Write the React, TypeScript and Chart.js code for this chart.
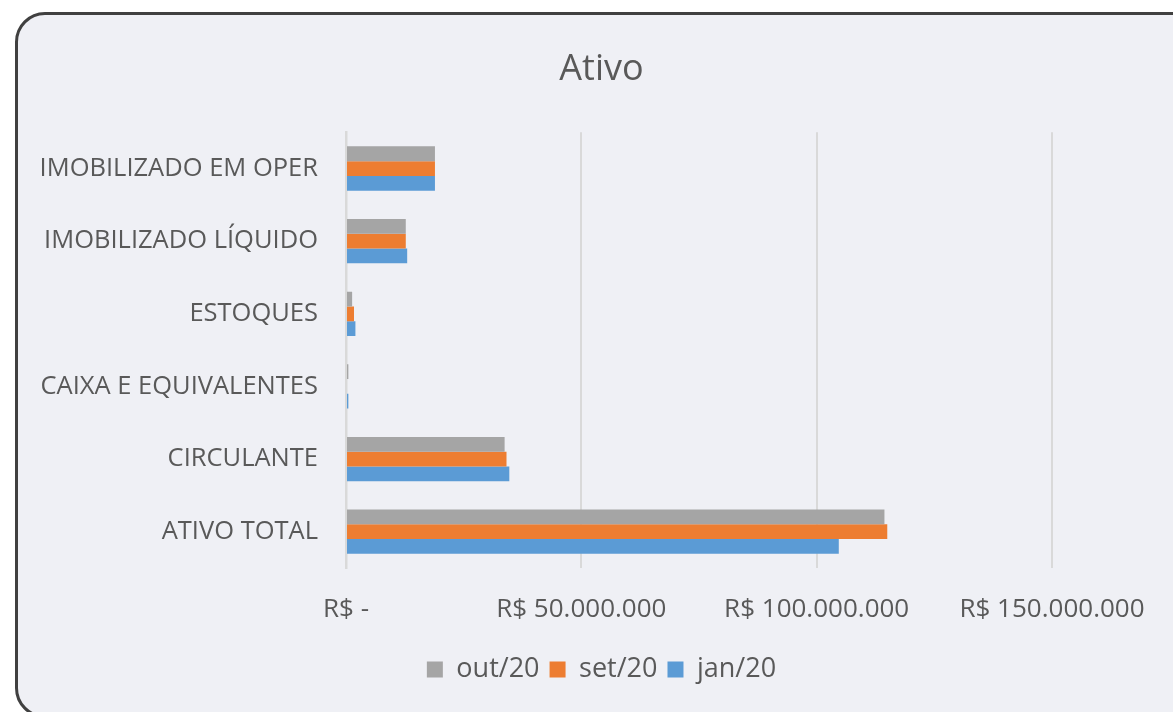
import React, { useEffect, useRef } from "react";
import { Chart, registerables } from "chart.js";

Chart.register(...registerables);

const categories = [
  "IMOBILIZADO EM OPER",
  "IMOBILIZADO LÍQUIDO",
  "ESTOQUES",
  "CAIXA E EQUIVALENTES",
  "CIRCULANTE",
  "ATIVO TOTAL",
];
const seriesNames = ["out/20", "set/20", "jan/20"];
const out20 = [18.9e6, 12.7e6, 1.3e6, 0.5e6, 33.7e6, 114.4e6];
const set20 = [18.9e6, 12.7e6, 1.7e6, 0, 34.1e6, 115.0e6];
const jan20 = [18.9e6, 13.0e6, 2.0e6, 0.5e6, 34.7e6, 104.7e6];
const xMin = 0;
const xMax = 150e6;
const xStep = 50e6;
const colors = ["#a5a5a5", "#ed7d31", "#5b9bd5"];

const FONT = "'Open Sans', sans-serif";
const TEXT = "#595959";

function fmt(v: number): string {
  if (v === 0) return "R$ -";
  const s = Math.round(v).toString().replace(/\B(?=(\d{3})+(?!\d))/g, ".");
  return "R$ " + s;
}

export default function App() {
  const ref = useRef<HTMLCanvasElement>(null);
  useEffect(() => {
    if (!ref.current) return;
    const chart = new Chart(ref.current, {
      type: "bar",
      data: {
        labels: categories,
        datasets: [out20, set20, jan20].map((d, i) => ({
          label: seriesNames[i],
          data: d,
          backgroundColor: colors[i],
          borderWidth: 0,
          barPercentage: 1,
          categoryPercentage: 0.61,
        })),
      },
      options: {
        indexAxis: "y",
        animation: false,
        responsive: false,
        maintainAspectRatio: false,
        layout: { padding: { top: 0, left: 30, right: 0, bottom: 19 } },
        plugins: {
          title: {
            display: true,
            text: "Ativo",
            color: TEXT,
            font: { family: FONT, size: 36, weight: "normal" },
            padding: { top: 48, bottom: 41 },
          },
          legend: {
            position: "bottom",
            labels: {
              color: TEXT,
              font: { family: FONT, size: 27 },
              boxWidth: 16,
              boxHeight: 16,
              padding: 10,
            },
          },
          tooltip: { enabled: false },
        },
        scales: {
          x: {
            min: xMin,
            max: xMax,
            ticks: {
              stepSize: xStep,
              color: TEXT,
              font: { family: FONT, size: 26 },
              padding: 26,
              maxRotation: 0,
              callback: (v: any) => fmt(Number(v)),
            },
            grid: { color: "#d9d9d9", lineWidth: 2, drawTicks: false },
            border: { display: false },
            afterFit: (s: any) => {
              s.height = 78;
            },
          },
          y: {
            ticks: {
              color: TEXT,
              font: { family: FONT, size: 25.5 },
              padding: 28,
            },
            grid: { display: false, drawTicks: false },
            border: { display: true, color: "#d9d9d9", width: 2.5 },
            afterFit: (s: any) => {
              s.width = 316;
            },
          },
          yPad: {
            position: "right",
            display: true,
            ticks: { display: false },
            grid: { display: false, drawTicks: false },
            border: { display: false },
            afterFit: (s: any) => {
              s.width = 121;
            },
          },
        },
      },
    });
    return () => chart.destroy();
  }, []);

  return (
    <div
      style={{
        position: "fixed",
        left: 0,
        top: 0,
        width: 1173,
        height: 712,
        overflow: "hidden",
        background: "#ffffff",
      }}
    >
      <div
        style={{
          position: "absolute",
          left: 15,
          top: 12,
          width: 1220,
          height: 700,
          border: "3px solid #404040",
          borderRadius: 30,
          background: "#eff0f5",
        }}
      />
      <canvas
        ref={ref}
        width={1173}
        height={712}
        style={{ position: "absolute", left: 0, top: 0, width: 1173, height: 712 }}
      />
    </div>
  );
}
